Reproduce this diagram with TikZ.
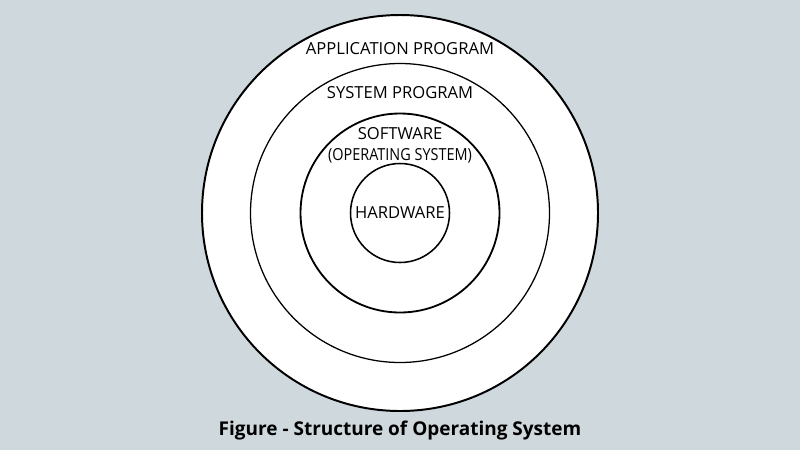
\documentclass[tikz,border=0pt]{standalone}
\usepackage{fontspec}
\setmainfont{Open Sans}
\usepackage{tikz}
\usetikzlibrary{positioning}

\definecolor{bgblue}{HTML}{CFD8DC}

\tikzset{
  ring/.style={circle,draw=black,fill=white,inner sep=0pt},
  layer/.style={font=\fontsize{11.8}{13}\selectfont,inner sep=1pt},
}

\begin{document}
\begin{tikzpicture}[x=0.025cm,y=-0.025cm]
\fill[bgblue] (0,0) rectangle (800,450);
\useasboundingbox (0,0) rectangle (800,450);
\node[ring,line width=1.4pt,minimum size=396*0.025cm] (app) at (400,213) {};
\node[ring,line width=0.9pt,minimum size=299*0.025cm] (sys) at (400,213) {};
\node[ring,line width=1.3pt,minimum size=199*0.025cm] (os) at (400,213) {};
\node[ring,line width=1.1pt,minimum size=99*0.025cm] (hw) at (400,213) {};
\node[layer] (app label) at (400,49) {APPLICATION PROGRAM};
\node[layer] (sys label) at (400,93) {SYSTEM PROGRAM};
\node[layer] (os label) at (400,134) {SOFTWARE};
\node[layer] (os sub) at (400,156) {\scalebox{0.87}[1]{(OPERATING SYSTEM)}};
\node[layer] (hw label) at (hw) {HARDWARE};
\node[font=\bfseries\fontsize{13.5}{15}\selectfont] (caption) at (400,431) {Figure - Structure of Operating System};
\end{tikzpicture}
\end{document}
